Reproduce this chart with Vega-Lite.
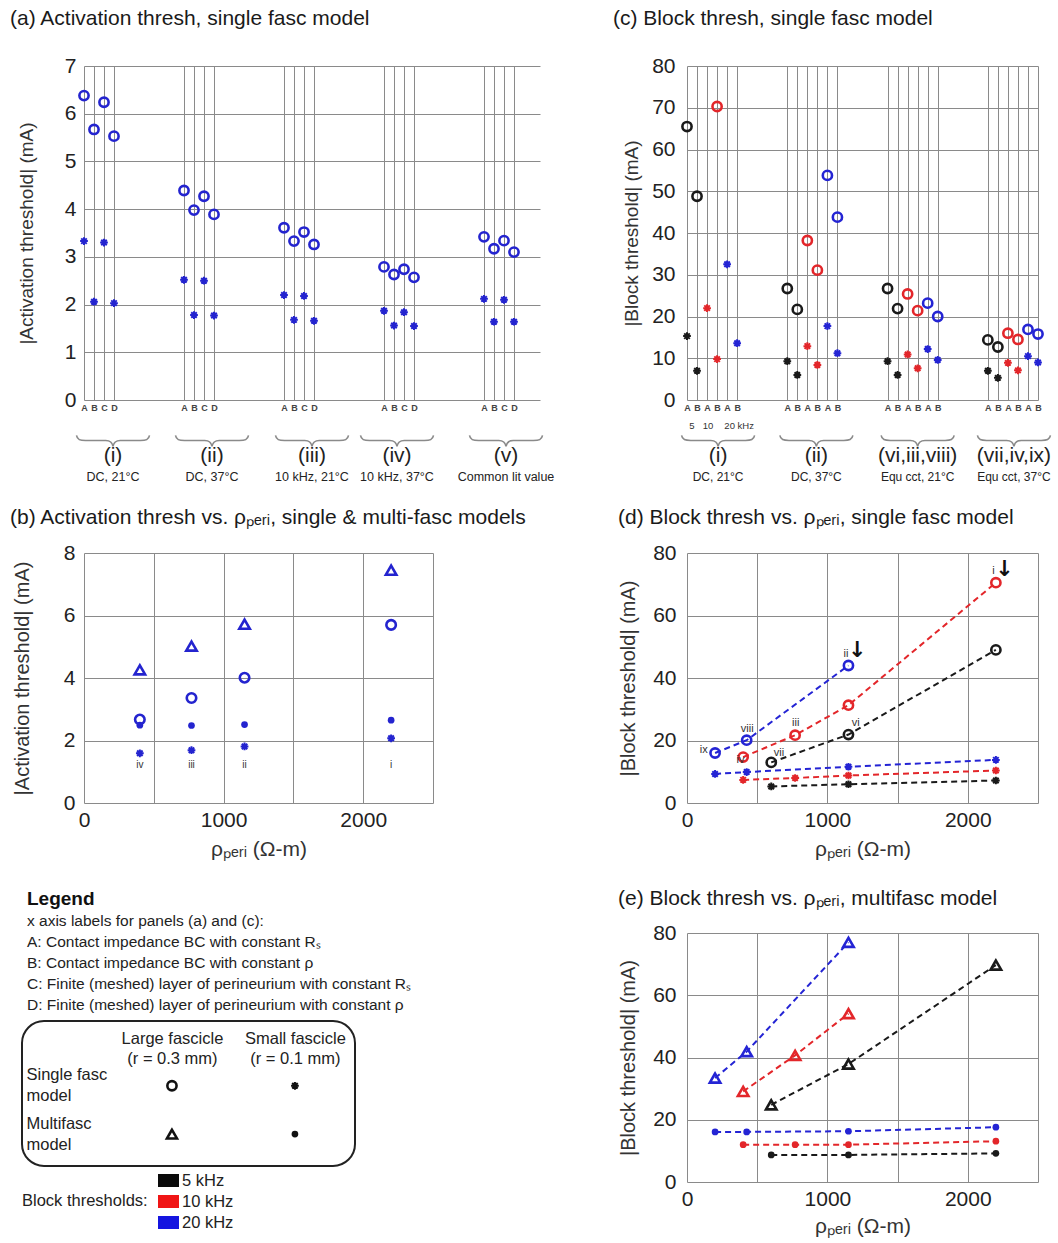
{
"$schema": "https://vega.github.io/schema/vega-lite/v6.json",
"padding": {"left": 10, "top": 8, "right": 5, "bottom": 5},
"background": "white",
"config": {
  "font": "Liberation Sans",
  "view": {"stroke": null},
  "axis": {"gridColor": "#8a8a8a", "gridWidth": 1, "gridOpacity": 1, "domain": false, "ticks": false, "labelColor": "#222", "titleColor": "#333", "titleFontWeight": "normal", "labelFont": "Liberation Sans", "titleFont": "Liberation Sans"},
  "title": {"anchor": "start", "frame": "group", "fontWeight": "normal", "color": "#1a1a1a", "font": "Liberation Sans", "fontSize": 21}
},
"datasets": {
  "actA": [
    {"cond":"i","bc":"A","slot":0,"fasc":"large","thr":6.38},{"cond":"i","bc":"B","slot":1,"fasc":"large","thr":5.67},{"cond":"i","bc":"C","slot":2,"fasc":"large","thr":6.24},{"cond":"i","bc":"D","slot":3,"fasc":"large","thr":5.53},
    {"cond":"i","bc":"A","slot":0,"fasc":"small","thr":3.33},{"cond":"i","bc":"B","slot":1,"fasc":"small","thr":2.06},{"cond":"i","bc":"C","slot":2,"fasc":"small","thr":3.30},{"cond":"i","bc":"D","slot":3,"fasc":"small","thr":2.03},
    {"cond":"ii","bc":"A","slot":10,"fasc":"large","thr":4.39},{"cond":"ii","bc":"B","slot":11,"fasc":"large","thr":3.98},{"cond":"ii","bc":"C","slot":12,"fasc":"large","thr":4.27},{"cond":"ii","bc":"D","slot":13,"fasc":"large","thr":3.89},
    {"cond":"ii","bc":"A","slot":10,"fasc":"small","thr":2.52},{"cond":"ii","bc":"B","slot":11,"fasc":"small","thr":1.78},{"cond":"ii","bc":"C","slot":12,"fasc":"small","thr":2.50},{"cond":"ii","bc":"D","slot":13,"fasc":"small","thr":1.77},
    {"cond":"iii","bc":"A","slot":20,"fasc":"large","thr":3.61},{"cond":"iii","bc":"B","slot":21,"fasc":"large","thr":3.33},{"cond":"iii","bc":"C","slot":22,"fasc":"large","thr":3.52},{"cond":"iii","bc":"D","slot":23,"fasc":"large","thr":3.26},
    {"cond":"iii","bc":"A","slot":20,"fasc":"small","thr":2.20},{"cond":"iii","bc":"B","slot":21,"fasc":"small","thr":1.68},{"cond":"iii","bc":"C","slot":22,"fasc":"small","thr":2.18},{"cond":"iii","bc":"D","slot":23,"fasc":"small","thr":1.66},
    {"cond":"iv","bc":"A","slot":30,"fasc":"large","thr":2.79},{"cond":"iv","bc":"B","slot":31,"fasc":"large","thr":2.63},{"cond":"iv","bc":"C","slot":32,"fasc":"large","thr":2.74},{"cond":"iv","bc":"D","slot":33,"fasc":"large","thr":2.57},
    {"cond":"iv","bc":"A","slot":30,"fasc":"small","thr":1.87},{"cond":"iv","bc":"B","slot":31,"fasc":"small","thr":1.56},{"cond":"iv","bc":"C","slot":32,"fasc":"small","thr":1.84},{"cond":"iv","bc":"D","slot":33,"fasc":"small","thr":1.55},
    {"cond":"v","bc":"A","slot":40,"fasc":"large","thr":3.42},{"cond":"v","bc":"B","slot":41,"fasc":"large","thr":3.17},{"cond":"v","bc":"C","slot":42,"fasc":"large","thr":3.34},{"cond":"v","bc":"D","slot":43,"fasc":"large","thr":3.10},
    {"cond":"v","bc":"A","slot":40,"fasc":"small","thr":2.12},{"cond":"v","bc":"B","slot":41,"fasc":"small","thr":1.64},{"cond":"v","bc":"C","slot":42,"fasc":"small","thr":2.10},{"cond":"v","bc":"D","slot":43,"fasc":"small","thr":1.64}
  ],
  "groupsA": [
    {"roman":"(i)","cond":"DC, 21°C","pos":2.9},
    {"roman":"(ii)","cond":"DC, 37°C","pos":12.8},
    {"roman":"(iii)","cond":"10 kHz, 21°C","pos":22.8},
    {"roman":"(iv)","cond":"10 kHz, 37°C","pos":31.3},
    {"roman":"(v)","cond":"Common lit value","pos":42.2}
  ],
  "blockC": [
    {"cond":"i","freq":"5 kHz","bc":"A","slot":0,"fasc":"large","thr":65.5},{"cond":"i","freq":"5 kHz","bc":"B","slot":1,"fasc":"large","thr":48.8},{"cond":"i","freq":"10 kHz","bc":"B","slot":3,"fasc":"large","thr":70.3},
    {"cond":"i","freq":"5 kHz","bc":"A","slot":0,"fasc":"small","thr":15.3},{"cond":"i","freq":"5 kHz","bc":"B","slot":1,"fasc":"small","thr":7.0},{"cond":"i","freq":"10 kHz","bc":"A","slot":2,"fasc":"small","thr":22.0},{"cond":"i","freq":"10 kHz","bc":"B","slot":3,"fasc":"small","thr":9.8},{"cond":"i","freq":"20 kHz","bc":"A","slot":4,"fasc":"small","thr":32.5},{"cond":"i","freq":"20 kHz","bc":"B","slot":5,"fasc":"small","thr":13.6},
    {"cond":"ii","freq":"5 kHz","bc":"A","slot":10,"fasc":"large","thr":26.7},{"cond":"ii","freq":"5 kHz","bc":"B","slot":11,"fasc":"large","thr":21.7},{"cond":"ii","freq":"10 kHz","bc":"A","slot":12,"fasc":"large","thr":38.2},{"cond":"ii","freq":"10 kHz","bc":"B","slot":13,"fasc":"large","thr":31.1},{"cond":"ii","freq":"20 kHz","bc":"A","slot":14,"fasc":"large","thr":53.8},{"cond":"ii","freq":"20 kHz","bc":"B","slot":15,"fasc":"large","thr":43.8},
    {"cond":"ii","freq":"5 kHz","bc":"A","slot":10,"fasc":"small","thr":9.3},{"cond":"ii","freq":"5 kHz","bc":"B","slot":11,"fasc":"small","thr":6.0},{"cond":"ii","freq":"10 kHz","bc":"A","slot":12,"fasc":"small","thr":12.9},{"cond":"ii","freq":"10 kHz","bc":"B","slot":13,"fasc":"small","thr":8.4},{"cond":"ii","freq":"20 kHz","bc":"A","slot":14,"fasc":"small","thr":17.7},{"cond":"ii","freq":"20 kHz","bc":"B","slot":15,"fasc":"small","thr":11.2},
    {"cond":"vi,iii,viii","freq":"5 kHz","bc":"A","slot":20,"fasc":"large","thr":26.7},{"cond":"vi,iii,viii","freq":"5 kHz","bc":"B","slot":21,"fasc":"large","thr":21.9},{"cond":"vi,iii,viii","freq":"10 kHz","bc":"A","slot":22,"fasc":"large","thr":25.4},{"cond":"vi,iii,viii","freq":"10 kHz","bc":"B","slot":23,"fasc":"large","thr":21.4},{"cond":"vi,iii,viii","freq":"20 kHz","bc":"A","slot":24,"fasc":"large","thr":23.2},{"cond":"vi,iii,viii","freq":"20 kHz","bc":"B","slot":25,"fasc":"large","thr":20.0},
    {"cond":"vi,iii,viii","freq":"5 kHz","bc":"A","slot":20,"fasc":"small","thr":9.3},{"cond":"vi,iii,viii","freq":"5 kHz","bc":"B","slot":21,"fasc":"small","thr":6.0},{"cond":"vi,iii,viii","freq":"10 kHz","bc":"A","slot":22,"fasc":"small","thr":10.9},{"cond":"vi,iii,viii","freq":"10 kHz","bc":"B","slot":23,"fasc":"small","thr":7.6},{"cond":"vi,iii,viii","freq":"20 kHz","bc":"A","slot":24,"fasc":"small","thr":12.2},{"cond":"vi,iii,viii","freq":"20 kHz","bc":"B","slot":25,"fasc":"small","thr":9.6},
    {"cond":"vii,iv,ix","freq":"5 kHz","bc":"A","slot":30,"fasc":"large","thr":14.4},{"cond":"vii,iv,ix","freq":"5 kHz","bc":"B","slot":31,"fasc":"large","thr":12.7},{"cond":"vii,iv,ix","freq":"10 kHz","bc":"A","slot":32,"fasc":"large","thr":16.0},{"cond":"vii,iv,ix","freq":"10 kHz","bc":"B","slot":33,"fasc":"large","thr":14.5},{"cond":"vii,iv,ix","freq":"20 kHz","bc":"A","slot":34,"fasc":"large","thr":16.9},{"cond":"vii,iv,ix","freq":"20 kHz","bc":"B","slot":35,"fasc":"large","thr":15.8},
    {"cond":"vii,iv,ix","freq":"5 kHz","bc":"A","slot":30,"fasc":"small","thr":7.0},{"cond":"vii,iv,ix","freq":"5 kHz","bc":"B","slot":31,"fasc":"small","thr":5.3},{"cond":"vii,iv,ix","freq":"10 kHz","bc":"A","slot":32,"fasc":"small","thr":8.9},{"cond":"vii,iv,ix","freq":"10 kHz","bc":"B","slot":33,"fasc":"small","thr":7.1},{"cond":"vii,iv,ix","freq":"20 kHz","bc":"A","slot":34,"fasc":"small","thr":10.5},{"cond":"vii,iv,ix","freq":"20 kHz","bc":"B","slot":35,"fasc":"small","thr":9.0}
  ],
  "groupsC": [
    {"roman":"(i)","cond":"DC, 21°C","pos":3.1},
    {"roman":"(ii)","cond":"DC, 37°C","pos":12.9},
    {"roman":"(vi,iii,viii)","cond":"Equ cct, 21°C","pos":23.0},
    {"roman":"(vii,iv,ix)","cond":"Equ cct, 37°C","pos":32.6}
  ],
  "khzC": [{"t":"5","pos":0.5},{"t":"10","pos":2.1},{"t":"20 kHz","pos":5.2}],
  "actB": [
    {"lbl":"iv","rho":400,"kind":"multiLarge","thr":4.26},{"lbl":"iv","rho":400,"kind":"singleLarge","thr":2.67},{"lbl":"iv","rho":400,"kind":"multiSmall","thr":2.49},{"lbl":"iv","rho":400,"kind":"singleSmall","thr":1.59},
    {"lbl":"iii","rho":770,"kind":"multiLarge","thr":5.02},{"lbl":"iii","rho":770,"kind":"singleLarge","thr":3.36},{"lbl":"iii","rho":770,"kind":"multiSmall","thr":2.48},{"lbl":"iii","rho":770,"kind":"singleSmall","thr":1.69},
    {"lbl":"ii","rho":1150,"kind":"multiLarge","thr":5.72},{"lbl":"ii","rho":1150,"kind":"singleLarge","thr":4.01},{"lbl":"ii","rho":1150,"kind":"multiSmall","thr":2.51},{"lbl":"ii","rho":1150,"kind":"singleSmall","thr":1.81},
    {"lbl":"i","rho":2200,"kind":"multiLarge","thr":7.45},{"lbl":"i","rho":2200,"kind":"singleLarge","thr":5.70},{"lbl":"i","rho":2200,"kind":"multiSmall","thr":2.65},{"lbl":"i","rho":2200,"kind":"singleSmall","thr":2.07}
  ],
  "labelsB": [{"t":"iv","rho":400},{"t":"iii","rho":770},{"t":"ii","rho":1150},{"t":"i","rho":2200}],
  "blockD": [
    {"freq":"20 kHz","fasc":"large","rho":200,"thr":16.0},{"freq":"20 kHz","fasc":"large","rho":425,"thr":20.1},{"freq":"20 kHz","fasc":"large","rho":1150,"thr":44.0},
    {"freq":"10 kHz","fasc":"large","rho":400,"thr":14.7},{"freq":"10 kHz","fasc":"large","rho":770,"thr":21.7},{"freq":"10 kHz","fasc":"large","rho":1150,"thr":31.3},{"freq":"10 kHz","fasc":"large","rho":2200,"thr":70.5},
    {"freq":"5 kHz","fasc":"large","rho":600,"thr":13.0},{"freq":"5 kHz","fasc":"large","rho":1150,"thr":21.9},{"freq":"5 kHz","fasc":"large","rho":2200,"thr":49.0},
    {"freq":"20 kHz","fasc":"small","rho":200,"thr":9.3},{"freq":"20 kHz","fasc":"small","rho":425,"thr":9.9},{"freq":"20 kHz","fasc":"small","rho":1150,"thr":11.6},{"freq":"20 kHz","fasc":"small","rho":2200,"thr":13.8},
    {"freq":"10 kHz","fasc":"small","rho":400,"thr":7.4},{"freq":"10 kHz","fasc":"small","rho":770,"thr":8.0},{"freq":"10 kHz","fasc":"small","rho":1150,"thr":8.8},{"freq":"10 kHz","fasc":"small","rho":2200,"thr":10.4},
    {"freq":"5 kHz","fasc":"small","rho":600,"thr":5.3},{"freq":"5 kHz","fasc":"small","rho":1150,"thr":6.0},{"freq":"5 kHz","fasc":"small","rho":2200,"thr":7.2}
  ],
  "labelsD": [
    {"t":"ix","rho":119,"thr":17.1},{"t":"viii","rho":429,"thr":23.7},{"t":"ii","rho":1132,"thr":47.8},{"t":"iv","rho":381,"thr":13.9},
    {"t":"iii","rho":774,"thr":25.6},{"t":"vi","rho":1202,"thr":25.6},{"t":"vii","rho":655,"thr":16.0},{"t":"i","rho":2182,"thr":74.1}
  ],
  "arrowsD": [{"rho":1212,"thr":48.9},{"rho":2262,"thr":74.8}],
  "blockE": [
    {"freq":"20 kHz","fasc":"large","rho":200,"thr":33.4},{"freq":"20 kHz","fasc":"large","rho":425,"thr":41.9},{"freq":"20 kHz","fasc":"large","rho":1150,"thr":77.0},
    {"freq":"10 kHz","fasc":"large","rho":400,"thr":29.1},{"freq":"10 kHz","fasc":"large","rho":770,"thr":40.7},{"freq":"10 kHz","fasc":"large","rho":1150,"thr":54.1},
    {"freq":"5 kHz","fasc":"large","rho":600,"thr":24.8},{"freq":"5 kHz","fasc":"large","rho":1150,"thr":37.9},{"freq":"5 kHz","fasc":"large","rho":2200,"thr":69.7},
    {"freq":"20 kHz","fasc":"small","rho":200,"thr":16.1},{"freq":"20 kHz","fasc":"small","rho":425,"thr":16.1},{"freq":"20 kHz","fasc":"small","rho":1150,"thr":16.3},{"freq":"20 kHz","fasc":"small","rho":2200,"thr":17.6},
    {"freq":"10 kHz","fasc":"small","rho":400,"thr":12.0},{"freq":"10 kHz","fasc":"small","rho":770,"thr":12.0},{"freq":"10 kHz","fasc":"small","rho":1150,"thr":12.0},{"freq":"10 kHz","fasc":"small","rho":2200,"thr":13.1},
    {"freq":"5 kHz","fasc":"small","rho":600,"thr":8.7},{"freq":"5 kHz","fasc":"small","rho":1150,"thr":8.7},{"freq":"5 kHz","fasc":"small","rho":2200,"thr":9.2}
  ],
  "legendShapes": [
    {"fascicle":"Large","model":"Single","kind":"singleLarge"},
    {"fascicle":"Small","model":"Single","kind":"singleSmall"},
    {"fascicle":"Large","model":"Multi","kind":"multiLarge"},
    {"fascicle":"Small","model":"Multi","kind":"multiSmall"}
  ],
  "freqs": [{"freq":"5 kHz"},{"freq":"10 kHz"},{"freq":"20 kHz"}]
},
"spacing": 58,
"resolve": {"scale": {"color": "independent"}, "legend": {"color": "independent"}},
"hconcat": [
  {
    "spacing": 29,
    "resolve": {"scale": {"color": "independent"}, "legend": {"color": "independent"}},
    "vconcat": [
      {
        "columns": 2,
        "align": "each",
        "spacing": -13,
        "concat": [
          {"width": 1, "height": 1, "data": {"values": []}, "mark": "point"},
          {
            "spacing": 23,
            "vconcat": [
              {
                "width": 456, "height": 334,
                "title": {"text": "(a) Activation thresh, single fasc model", "dx": -74, "offset": 26},
                "layer": [
                  {"data": {"name": "actA"}, "transform": [{"filter": "datum.fasc == 'large'"}],
                   "mark": {"type": "point", "shape": "circle", "filled": false, "color": "#2424cf", "strokeWidth": 2.6, "size": 85, "opacity": 1},
                   "encoding": {
                     "x": {"field": "slot", "type": "quantitative", "scale": {"domain": [0, 45.6], "nice": false, "zero": false},
                           "axis": {"values": [0,1,2,3,10,11,12,13,20,21,22,23,30,31,32,33,40,41,42,43], "tickCount": 100, "grid": true, "title": null, "labelExpr": "['A','B','C','D'][datum.value % 10]", "labelFontSize": 9, "labelPadding": 3, "labelOverlap": false, "labelFlush": false, "labelColor": "#444", "labelFontWeight": "bold"}},
                     "y": {"field": "thr", "type": "quantitative", "scale": {"domain": [0, 7], "nice": false},
                           "axis": {"values": [0,1,2,3,4,5,6,7], "grid": true, "title": "|Activation threshold| (mA)", "titleFontSize": 19, "titlePadding": 28, "labelFontSize": 21, "labelPadding": 8}}
                   }},
                  {"data": {"name": "actA"}, "transform": [{"filter": "datum.fasc == 'small'"}],
                   "mark": {"type": "point", "shape": "M-1,0H1M0,-1V1M-0.71,-0.71L0.71,0.71M-0.71,0.71L0.71,-0.71", "filled": false, "color": "#2424cf", "strokeWidth": 2, "size": 60, "opacity": 1},
                   "encoding": {"x": {"field": "slot", "type": "quantitative"}, "y": {"field": "thr", "type": "quantitative"}}},
                  {"data": {"name": "groupsA"},
                   "mark": {"type": "point", "shape": "M-1,-0.14C-0.98,-0.02,-0.9,0,-0.75,0L-0.2,0C-0.08,0,-0.02,0.04,0,0.16C0.02,0.04,0.08,0,0.2,0L0.75,0C0.9,0,0.98,-0.02,1,-0.14", "filled": false, "color": "#8a8a8a", "strokeWidth": 1.6, "size": 5329, "opacity": 1},
                   "encoding": {"x": {"field": "pos", "type": "quantitative"}, "y": {"datum": -0.85}}},
                  {"data": {"name": "groupsA"},
                   "mark": {"type": "text", "fontSize": 21, "color": "#222", "baseline": "middle"},
                   "encoding": {"x": {"field": "pos", "type": "quantitative"}, "y": {"datum": -1.17}, "text": {"field": "roman"}}},
                  {"data": {"name": "groupsA"},
                   "mark": {"type": "text", "fontSize": 12.5, "color": "#222", "baseline": "middle"},
                   "encoding": {"x": {"field": "pos", "type": "quantitative"}, "y": {"datum": -1.62}, "text": {"field": "cond"}}}
                ]
              },
              {
                "width": 349, "height": 250,
                "title": {"text": "(b) Activation thresh vs. ρₚₑᵣᵢ, single & multi-fasc models", "dx": -74, "offset": 14},
                "layer": [
                  {"data": {"name": "actB"}, "transform": [{"filter": "datum.kind == 'multiLarge'"}],
                   "mark": {"type": "point", "shape": "triangle-up", "filled": false, "color": "#2424cf", "strokeWidth": 2.6, "size": 110, "opacity": 1},
                   "encoding": {
                     "x": {"field": "rho", "type": "quantitative", "scale": {"domain": [0, 2500], "nice": false},
                           "axis": {"values": [0,500,1000,1500,2000,2500], "format": "d", "labelExpr": "datum.value % 1000 == 0 ? datum.label : ''", "grid": true, "title": "ρₚₑᵣᵢ (Ω-m)", "titleFontSize": 21, "titlePadding": 8, "labelFontSize": 21, "labelPadding": 6, "labelFlush": false, "labelOverlap": false}},
                     "y": {"field": "thr", "type": "quantitative", "scale": {"domain": [0, 8], "nice": false},
                           "axis": {"values": [0,1,2,3,4,5,6,7,8], "labelExpr": "datum.value % 2 == 0 ? datum.label : ''", "grid": true, "title": "|Activation threshold| (mA)", "titleFontSize": 20, "titlePadding": 31, "labelFontSize": 21, "labelPadding": 9}}
                   }},
                  {"data": {"name": "actB"}, "transform": [{"filter": "datum.kind == 'multiSmall'"}],
                   "mark": {"type": "point", "shape": "circle", "filled": true, "color": "#2424cf", "size": 45, "opacity": 1},
                   "encoding": {"x": {"field": "rho", "type": "quantitative"}, "y": {"field": "thr", "type": "quantitative"}}},
                  {"data": {"name": "actB"}, "transform": [{"filter": "datum.kind == 'singleLarge'"}],
                   "mark": {"type": "point", "shape": "circle", "filled": false, "color": "#2424cf", "strokeWidth": 2.6, "size": 90, "opacity": 1},
                   "encoding": {"x": {"field": "rho", "type": "quantitative"}, "y": {"field": "thr", "type": "quantitative"}}},
                  {"data": {"name": "actB"}, "transform": [{"filter": "datum.kind == 'singleSmall'"}],
                   "mark": {"type": "point", "shape": "M-1,0H1M0,-1V1M-0.71,-0.71L0.71,0.71M-0.71,0.71L0.71,-0.71", "filled": false, "color": "#2424cf", "strokeWidth": 2, "size": 60, "opacity": 1},
                   "encoding": {"x": {"field": "rho", "type": "quantitative"}, "y": {"field": "thr", "type": "quantitative"}}},
                  {"data": {"name": "labelsB"},
                   "mark": {"type": "text", "fontSize": 10, "color": "#333", "baseline": "middle"},
                   "encoding": {"x": {"field": "rho", "type": "quantitative"}, "y": {"datum": 1.21}, "text": {"field": "t"}}}
                ]
              }
            ]
          }
        ]
      },
      {
        "width": 333, "height": 145,
        "view": {"stroke": "#222", "strokeWidth": 2, "cornerRadius": 22},
        "title": {"text": "Legend", "subtitle": ["x axis labels for panels (a) and (c):", "A: Contact impedance BC with constant Rₛ", "B: Contact impedance BC with constant ρ", "C: Finite (meshed) layer of perineurium with constant Rₛ", "D: Finite (meshed) layer of perineurium with constant ρ"], "fontSize": 19, "fontWeight": "bold", "color": "#111", "subtitleFontSize": 15.5, "subtitleColor": "#222", "subtitleLineHeight": 21, "subtitlePadding": 5, "dx": 5, "offset": 5},
        "data": {"name": "legendShapes"},
        "encoding": {
          "x": {"field": "fascicle", "type": "nominal", "sort": ["Large", "Small"], "scale": {"type": "point", "padding": 0.854, "align": 0.714},
                "axis": {"orient": "top", "title": null, "grid": false, "labelAngle": 0, "labelExpr": "datum.label == 'Large' ? ['Large fascicle', '(r = 0.3 mm)'] : ['Small fascicle', '(r = 0.1 mm)']", "labelPadding": -9, "labelBaseline": "top", "labelFontSize": 16.5, "labelLineHeight": 20, "labelColor": "#222"}},
          "y": {"field": "model", "type": "nominal", "sort": ["Single", "Multi"], "scale": {"type": "point", "padding": 1.01, "align": 0.67},
                "axis": {"title": null, "grid": false, "labelExpr": "datum.label == 'Single' ? ['Single fasc', 'model'] : ['Multifasc', 'model']", "labelPadding": -4, "labelAlign": "left", "labelBaseline": "middle", "labelOffset": -11, "labelFontSize": 16.5, "labelLineHeight": 21, "labelColor": "#222"}}
        },
        "layer": [
          {"transform": [{"filter": "datum.kind == 'singleLarge'"}], "mark": {"type": "point", "shape": "circle", "filled": false, "color": "#111", "strokeWidth": 2.6, "size": 85, "opacity": 1}},
          {"transform": [{"filter": "datum.kind == 'singleSmall'"}], "mark": {"type": "point", "shape": "M-1,0H1M0,-1V1M-0.71,-0.71L0.71,0.71M-0.71,0.71L0.71,-0.71", "filled": false, "color": "#111", "strokeWidth": 2, "size": 60, "opacity": 1}},
          {"transform": [{"filter": "datum.kind == 'multiLarge'"}], "mark": {"type": "point", "shape": "triangle-up", "filled": false, "color": "#111", "strokeWidth": 2.6, "size": 100, "opacity": 1}},
          {"transform": [{"filter": "datum.kind == 'multiSmall'"}], "mark": {"type": "point", "shape": "circle", "filled": true, "color": "#111", "size": 45, "opacity": 1}},
          {"data": {"name": "freqs"},
           "mark": {"type": "point", "shape": "square", "filled": true, "opacity": 0},
           "encoding": {
             "x": {"value": 0}, "y": {"value": 0},
             "color": {"field": "freq", "type": "nominal", "scale": {"domain": ["5 kHz", "10 kHz", "20 kHz"], "range": ["#0a0a0a", "#f01515", "#1515e0"]},
                       "legend": {"title": "Block thresholds:", "orient": "bottom", "direction": "vertical", "titleOrient": "left", "titleAnchor": "middle", "titleBaseline": "middle", "titleFontSize": 16.5, "titleFontWeight": "normal", "titleColor": "#222", "titlePadding": 10, "labelFontSize": 16.5, "labelColor": "#222", "labelOffset": 3, "symbolType": "M-1,-0.62H1V0.62H-1Z", "symbolSize": 441, "symbolStrokeWidth": 0, "symbolOpacity": 1, "rowPadding": 2, "offset": 4, "encode": {"symbols": {"update": {"opacity": {"value": 1}}}}}}
           }}
        ]
      }
    ]
  },
  {
    "spacing": 29,
    "resolve": {"scale": {"color": "independent"}, "legend": {"color": "independent"}},
    "vconcat": [
      {
        "spacing": 23,
        "resolve": {"scale": {"color": "independent"}, "legend": {"color": "independent"}},
        "vconcat": [
          {
            "width": 351, "height": 334,
            "title": {"text": "(c) Block thresh, single fasc model", "dx": -74, "offset": 26},
            "layer": [
              {"data": {"name": "blockC"}, "transform": [{"filter": "datum.fasc == 'large'"}],
               "mark": {"type": "point", "shape": "circle", "filled": false, "strokeWidth": 2.6, "size": 85, "opacity": 1},
               "encoding": {
                 "x": {"field": "slot", "type": "quantitative", "scale": {"domain": [0, 35], "nice": false, "zero": false},
                       "axis": {"values": [0,1,2,3,4,5,10,11,12,13,14,15,20,21,22,23,24,25,30,31,32,33,34,35], "tickCount": 100, "grid": true, "title": null, "labelExpr": "datum.value % 2 == 0 ? 'A' : 'B'", "labelFontSize": 9, "labelPadding": 3, "labelOverlap": false, "labelFlush": false, "labelColor": "#444", "labelFontWeight": "bold"}},
                 "y": {"field": "thr", "type": "quantitative", "scale": {"domain": [0, 80], "nice": false},
                       "axis": {"values": [0,10,20,30,40,50,60,70,80], "grid": true, "title": "|Block threshold| (mA)", "titleFontSize": 19, "titlePadding": 10, "labelFontSize": 21, "labelPadding": 12}},
                 "color": {"field": "freq", "type": "nominal", "scale": {"domain": ["5 kHz", "10 kHz", "20 kHz"], "range": ["#1a1a1a", "#e3262a", "#2424d4"]}, "legend": null}
               }},
              {"data": {"name": "blockC"}, "transform": [{"filter": "datum.fasc == 'small'"}],
               "mark": {"type": "point", "shape": "M-1,0H1M0,-1V1M-0.71,-0.71L0.71,0.71M-0.71,0.71L0.71,-0.71", "filled": false, "strokeWidth": 2, "size": 60, "opacity": 1},
               "encoding": {"x": {"field": "slot", "type": "quantitative"}, "y": {"field": "thr", "type": "quantitative"}, "color": {"field": "freq", "type": "nominal", "legend": null}}},
              {"data": {"name": "khzC"},
               "mark": {"type": "text", "fontSize": 9.5, "color": "#333", "baseline": "middle"},
               "encoding": {"x": {"field": "pos", "type": "quantitative"}, "y": {"datum": -6.2}, "text": {"field": "t"}}},
              {"data": {"name": "groupsC"},
               "mark": {"type": "point", "shape": "M-1,-0.14C-0.98,-0.02,-0.9,0,-0.75,0L-0.2,0C-0.08,0,-0.02,0.04,0,0.16C0.02,0.04,0.08,0,0.2,0L0.75,0C0.9,0,0.98,-0.02,1,-0.14", "filled": false, "color": "#8a8a8a", "strokeWidth": 1.6, "size": 5329, "opacity": 1},
               "encoding": {"x": {"field": "pos", "type": "quantitative"}, "y": {"datum": -9.7}}},
              {"data": {"name": "groupsC"},
               "mark": {"type": "text", "fontSize": 21, "color": "#222", "baseline": "middle"},
               "encoding": {"x": {"field": "pos", "type": "quantitative"}, "y": {"datum": -13.3}, "text": {"field": "roman"}}},
              {"data": {"name": "groupsC"},
               "mark": {"type": "text", "fontSize": 12, "color": "#222", "baseline": "middle"},
               "encoding": {"x": {"field": "pos", "type": "quantitative"}, "y": {"datum": -18.5}, "text": {"field": "cond"}}}
            ]
          },
          {
            "width": 351, "height": 250,
            "title": {"text": "(d) Block thresh vs. ρₚₑᵣᵢ, single fasc model", "dx": -69, "offset": 14},
            "data": {"name": "blockD"},
            "layer": [
              {"transform": [{"filter": "datum.fasc == 'large'"}],
               "mark": {"type": "line", "strokeDash": [6, 4], "strokeWidth": 2},
               "encoding": {
                 "x": {"field": "rho", "type": "quantitative", "scale": {"domain": [0, 2500], "nice": false},
                       "axis": {"values": [0,500,1000,1500,2000,2500], "format": "d", "labelExpr": "datum.value % 1000 == 0 ? datum.label : ''", "grid": true, "title": "ρₚₑᵣᵢ (Ω-m)", "titleFontSize": 21, "titlePadding": 8, "labelFontSize": 21, "labelPadding": 6, "labelFlush": false, "labelOverlap": false}},
                 "y": {"field": "thr", "type": "quantitative", "scale": {"domain": [0, 80], "nice": false},
                       "axis": {"values": [0,10,20,30,40,50,60,70,80], "labelExpr": "datum.value % 20 == 0 ? datum.label : ''", "grid": true, "title": "|Block threshold| (mA)", "titleFontSize": 20, "titlePadding": 14, "labelFontSize": 21, "labelPadding": 11}},
                 "color": {"field": "freq", "type": "nominal", "scale": {"domain": ["5 kHz", "10 kHz", "20 kHz"], "range": ["#1a1a1a", "#e3262a", "#2424d4"]}, "legend": null}
               }},
              {"transform": [{"filter": "datum.fasc == 'small'"}],
               "mark": {"type": "line", "strokeDash": [6, 4], "strokeWidth": 2},
               "encoding": {"x": {"field": "rho", "type": "quantitative"}, "y": {"field": "thr", "type": "quantitative"}, "color": {"field": "freq", "type": "nominal", "legend": null}}},
              {"transform": [{"filter": "datum.fasc == 'large'"}],
               "mark": {"type": "point", "shape": "circle", "filled": false, "strokeWidth": 2.6, "size": 85, "opacity": 1},
               "encoding": {"x": {"field": "rho", "type": "quantitative"}, "y": {"field": "thr", "type": "quantitative"}, "color": {"field": "freq", "type": "nominal", "legend": null}}},
              {"transform": [{"filter": "datum.fasc == 'small'"}],
               "mark": {"type": "point", "shape": "M-1,0H1M0,-1V1M-0.71,-0.71L0.71,0.71M-0.71,0.71L0.71,-0.71", "filled": false, "strokeWidth": 2, "size": 60, "opacity": 1},
               "encoding": {"x": {"field": "rho", "type": "quantitative"}, "y": {"field": "thr", "type": "quantitative"}, "color": {"field": "freq", "type": "nominal", "legend": null}}},
              {"data": {"name": "labelsD"},
               "mark": {"type": "text", "fontSize": 11, "color": "#333", "baseline": "middle"},
               "encoding": {"x": {"field": "rho", "type": "quantitative"}, "y": {"field": "thr", "type": "quantitative"}, "text": {"field": "t"}}},
              {"data": {"name": "arrowsD"},
               "mark": {"type": "text", "font": "DejaVu Sans", "fontSize": 22, "fontWeight": "bold", "color": "#111", "baseline": "middle"},
               "encoding": {"x": {"field": "rho", "type": "quantitative"}, "y": {"field": "thr", "type": "quantitative"}, "text": {"value": "↓"}}}
            ]
          }
        ]
      },
      {
        "width": 351, "height": 249,
        "title": {"text": "(e) Block thresh vs. ρₚₑᵣᵢ, multifasc model", "dx": -69, "offset": 13},
        "data": {"name": "blockE"},
        "layer": [
          {"transform": [{"filter": "datum.fasc == 'large'"}],
           "mark": {"type": "line", "strokeDash": [6, 4], "strokeWidth": 2},
           "encoding": {
             "x": {"field": "rho", "type": "quantitative", "scale": {"domain": [0, 2500], "nice": false},
                   "axis": {"values": [0,500,1000,1500,2000,2500], "format": "d", "labelExpr": "datum.value % 1000 == 0 ? datum.label : ''", "grid": true, "title": "ρₚₑᵣᵢ (Ω-m)", "titleFontSize": 21, "titlePadding": 6, "labelFontSize": 21, "labelPadding": 6, "labelFlush": false, "labelOverlap": false}},
             "y": {"field": "thr", "type": "quantitative", "scale": {"domain": [0, 80], "nice": false},
                   "axis": {"values": [0,10,20,30,40,50,60,70,80], "labelExpr": "datum.value % 20 == 0 ? datum.label : ''", "grid": true, "title": "|Block threshold| (mA)", "titleFontSize": 20, "titlePadding": 14, "labelFontSize": 21, "labelPadding": 11}},
             "color": {"field": "freq", "type": "nominal", "scale": {"domain": ["5 kHz", "10 kHz", "20 kHz"], "range": ["#1a1a1a", "#e3262a", "#2424d4"]}, "legend": null}
           }},
          {"transform": [{"filter": "datum.fasc == 'small'"}],
           "mark": {"type": "line", "strokeDash": [6, 4], "strokeWidth": 2},
           "encoding": {"x": {"field": "rho", "type": "quantitative"}, "y": {"field": "thr", "type": "quantitative"}, "color": {"field": "freq", "type": "nominal", "legend": null}}},
          {"transform": [{"filter": "datum.fasc == 'large'"}],
           "mark": {"type": "point", "shape": "triangle-up", "filled": false, "strokeWidth": 2.6, "size": 110, "opacity": 1},
           "encoding": {"x": {"field": "rho", "type": "quantitative"}, "y": {"field": "thr", "type": "quantitative"}, "color": {"field": "freq", "type": "nominal", "legend": null}}},
          {"transform": [{"filter": "datum.fasc == 'small'"}],
           "mark": {"type": "point", "shape": "circle", "filled": true, "size": 45, "opacity": 1},
           "encoding": {"x": {"field": "rho", "type": "quantitative"}, "y": {"field": "thr", "type": "quantitative"}, "color": {"field": "freq", "type": "nominal", "legend": null}}}
        ]
      }
    ]
  }
]
}
